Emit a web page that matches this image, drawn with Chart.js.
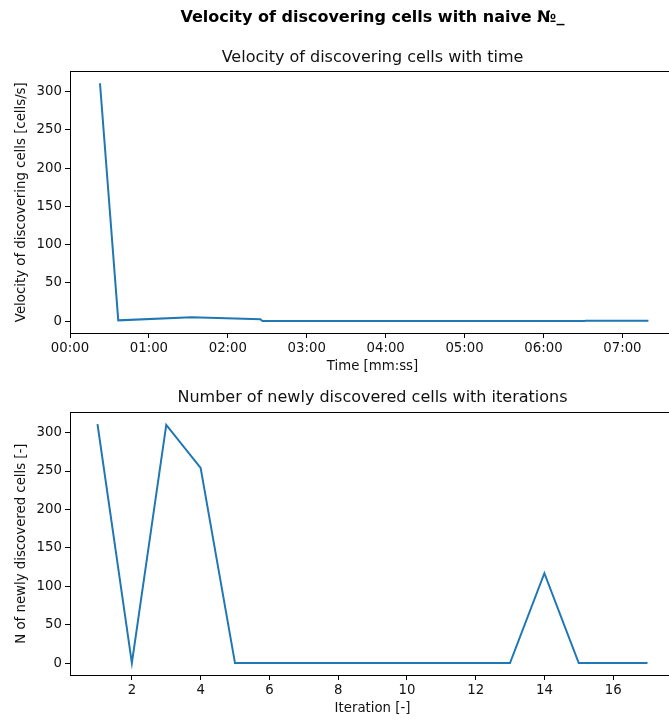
<!DOCTYPE html>
<html>
<head>
<meta charset="utf-8">
<script src="https://cdn.jsdelivr.net/npm/chart.js@4"></script>
<style>
  html, body { margin: 0; padding: 0; background: #fff; overflow: hidden; width: 669px; height: 721px; }
  canvas { position: absolute; left: 0; }
  #c1 { top: 0; }
  #c2 { top: 380px; }
</style>
</head>
<body>
<canvas id="c1" width="680" height="380"></canvas>
<canvas id="c2" width="680" height="341"></canvas>
<script>
// Velocity of discovering cells against elapsed time (seconds)
const timeSeconds = [22.8, 36.7, 92.4, 144.8, 146.3, 391, 392, 439.8];
const velocity    = [311, 1, 5, 2.5, 0, 0, 0.4, 0.4];
const timeTicks   = [0, 60, 120, 180, 240, 300, 360, 420];

// Newly discovered cells per iteration
const iterations  = [1, 2, 3, 4, 5, 6, 7, 8, 9, 10, 11, 12, 13, 14, 15, 16, 17];
const newCells    = [311, 0, 310, 254, 0, 0, 0, 0, 0, 0, 0, 0, 0, 117, 0, 0, 0];
const iterTicks   = [2, 4, 6, 8, 10, 12, 14, 16];
const countTicks  = [0, 50, 100, 150, 200, 250, 300];

const FONT = "'DejaVu Sans', sans-serif";
const TEXT = '#111';
const LINE = '#1f77b4';
const SMALL = 13.3;
const LARGE = 16;

Chart.defaults.font.family = FONT;
Chart.defaults.color = TEXT;

function mmss(v) {
  const m = Math.floor(v / 60), s = Math.round(v % 60);
  return String(m).padStart(2, '0') + ':' + String(s).padStart(2, '0');
}

// limits with a 5% margin around the data range
function padded(arr) {
  const lo = Math.min(...arr), hi = Math.max(...arr), m = (hi - lo) * 0.05;
  return { min: lo - m, max: hi + m };
}

// full box around the plotting area
const frame = {
  id: 'frame',
  afterDraw(chart) {
    const { ctx, chartArea: a } = chart;
    ctx.save();
    ctx.strokeStyle = '#000';
    ctx.lineWidth = 1;
    ctx.strokeRect(Math.round(a.left) + 0.5, Math.round(a.top) + 0.5,
                   Math.round(a.right - a.left), Math.round(a.bottom - a.top));
    ctx.restore();
  }
};

const tickGrid = { drawOnChartArea: false, drawTicks: true, tickLength: 5, color: '#000' };

const lineDataset = (xs, ys) => ({
  data: xs.map((x, i) => ({ x, y: ys[i] })),
  borderColor: LINE,
  borderWidth: 2,
  pointRadius: 0,
  tension: 0,
  fill: false,
});

const yLim1 = padded(velocity);
new Chart(document.getElementById('c1'), {
  type: 'line',
  data: { datasets: [lineDataset(timeSeconds, velocity)] },
  options: {
    responsive: false,
    animation: false,
    events: [],
    layout: { padding: { top: 8, right: 5, left: 0, bottom: 0 } },
    plugins: {
      legend: { display: false },
      tooltip: { enabled: false },
      title: {
        display: true, fullSize: false,
        text: 'Velocity of discovering cells with naive №_',
        font: { size: LARGE, weight: 'bold' }, color: '#000',
        padding: { top: 0, bottom: 21 },
      },
      subtitle: {
        display: true, fullSize: false,
        text: 'Velocity of discovering cells with time',
        font: { size: LARGE, weight: 'normal' }, color: TEXT,
        padding: { top: 0, bottom: 4 },
      },
    },
    scales: {
      x: {
        type: 'linear', min: 0, max: 460,
        grid: tickGrid, border: { display: false },
        afterBuildTicks(s) { s.ticks = timeTicks.map(v => ({ value: v })); },
        ticks: { font: { size: SMALL }, color: TEXT, padding: 3, maxRotation: 0, callback: v => mmss(v) },
        title: { display: true, text: 'Time [mm:ss]', font: { size: SMALL }, color: TEXT, padding: { top: 0, bottom: 5 } },
        afterFit(s) { s.height = 47; },
      },
      y: {
        type: 'linear', min: yLim1.min, max: yLim1.max,
        grid: tickGrid, border: { display: false },
        afterBuildTicks(s) { s.ticks = countTicks.map(v => ({ value: v })); },
        ticks: { font: { size: SMALL }, color: TEXT, padding: 3 },
        title: { display: true, text: 'Velocity of discovering cells [cells/s]', font: { size: SMALL }, color: TEXT, padding: { top: 14, bottom: 0 } },
        afterFit(s) { s.width = 70; },
      },
    },
  },
  plugins: [frame],
});

const yLim2 = padded(newCells);
const xLim2 = padded(iterations);
new Chart(document.getElementById('c2'), {
  type: 'line',
  data: { datasets: [lineDataset(iterations, newCells)] },
  options: {
    responsive: false,
    animation: false,
    events: [],
    layout: { padding: { top: 8, right: 5, left: 0, bottom: 0 } },
    plugins: {
      legend: { display: false },
      tooltip: { enabled: false },
      title: {
        display: true, fullSize: false,
        text: 'Number of newly discovered cells with iterations',
        font: { size: LARGE, weight: 'normal' }, color: TEXT,
        padding: { top: 0, bottom: 5 },
      },
    },
    scales: {
      x: {
        type: 'linear', min: xLim2.min, max: xLim2.max,
        grid: tickGrid, border: { display: false },
        afterBuildTicks(s) { s.ticks = iterTicks.map(v => ({ value: v })); },
        ticks: { font: { size: SMALL }, color: TEXT, padding: 3, maxRotation: 0 },
        title: { display: true, text: 'Iteration [-]', font: { size: SMALL }, color: TEXT, padding: { top: 0, bottom: 4 } },
        afterFit(s) { s.height = 46; },
      },
      y: {
        type: 'linear', min: yLim2.min, max: yLim2.max,
        grid: tickGrid, border: { display: false },
        afterBuildTicks(s) { s.ticks = countTicks.map(v => ({ value: v })); },
        ticks: { font: { size: SMALL }, color: TEXT, padding: 3 },
        title: { display: true, text: 'N of newly discovered cells [-]', font: { size: SMALL }, color: TEXT, padding: { top: 14, bottom: 0 } },
        afterFit(s) { s.width = 70; },
      },
    },
  },
  plugins: [frame],
});
</script>
</body>
</html>
